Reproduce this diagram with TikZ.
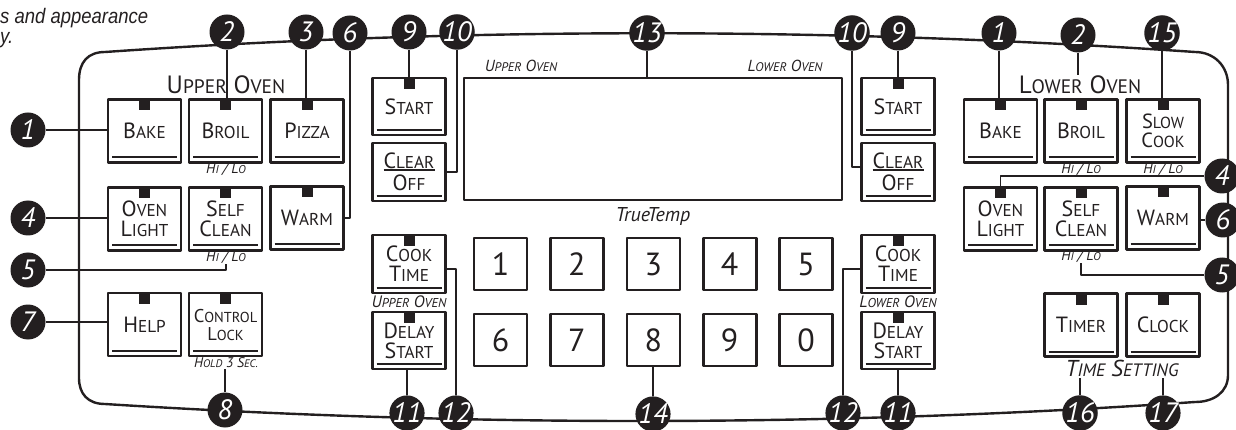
\documentclass[tikz,border=0pt]{standalone}
\usepackage{fontspec}
\setmainfont{PT Sans}
\newfontfamily\notefont[FakeStretch=0.88]{Liberation Sans}
\usepackage{tikz}
\definecolor{ink}{HTML}{231F20}
\newcommand\kc[2]{#1\scalebox{0.78}{#2}}
\newcommand\keyline{\draw[ink,line width=2pt] ([shift={(4pt,5pt)}]path picture bounding box.south west) -- ([shift={(-4pt,5pt)}]path picture bounding box.south east);}
\newcommand\keylamp{\fill[ink] ([xshift=-5.5pt]path picture bounding box.north) rectangle ([shift={(5.5pt,-11pt)}]path picture bounding box.north);}

\begin{document}
\begin{tikzpicture}[x=1pt,y=-1pt,line join=round,
    panel/.style={draw=ink,line width=2.4pt},
    wire/.style={draw=ink,line width=1.8pt},
    badge/.style={circle,fill=ink,text=white,minimum size=35pt,inner sep=0pt,font=\itshape\fontsize{28}{28}\selectfont},
    btnbox/.style={draw=ink,line width=2.6pt,fill=white,minimum width=73pt,minimum height=63pt,inner sep=0pt,align=center,text=ink,font=\fontsize{22}{20}\selectfont},
    btn/.style={btnbox,path picture={\keyline}},
    lampbtn/.style={btnbox,path picture={\keylamp\keyline}},
    clearbtn/.style={btnbox,path picture={\keyline\draw[ink,line width=1.6pt] ([shift={(11pt,2pt)}]path picture bounding box.west) -- ([shift={(-11pt,2pt)}]path picture bounding box.east);}},
    numbtn/.style={draw=ink,line width=2.6pt,minimum width=53pt,minimum height=52pt,inner sep=0pt,text=ink,font=\fontsize{32}{32}\selectfont},
    note/.style={inner sep=1pt,text=ink,font=\itshape\fontsize{14.5}{14.5}\selectfont},
    head/.style={inner sep=1pt,text=ink,font=\fontsize{25}{25}\selectfont}]
  \useasboundingbox (0,0) rectangle (1236,430);
  \node[anchor=base west,inner sep=0pt,text=ink,font=\notefont\itshape\fontsize{21}{21}\selectfont] (disc1) at (0,24) {s and appearance};
  \node[anchor=base west,inner sep=0pt,text=ink,font=\notefont\itshape\fontsize{21}{21}\selectfont] (disc2) at (0,44) {y.};
  \draw[panel] (79,80) .. controls (79,62) and (88,52) .. (105,52)
    .. controls (465,27) and (830,27) .. (1195,52)
    .. controls (1214,52) and (1228,66) .. (1228,85) -- (1228,375)
    .. controls (1228,392) and (1214,402) .. (1195,402)
    .. controls (832,427) and (468,427) .. (105,404)
    .. controls (88,404) and (79,394) .. (79,378) -- cycle;
  \node[head] (headU) at (226,85) {\kc{U}{PPER} \kc{O}{VEN}};
  \node[head] (headL) at (1080,85) {\kc{L}{OWER} \kc{O}{VEN}};
  \node[lampbtn] (bakeU) at (144.5,131) {\kc{B}{AKE}};
  \node[lampbtn] (broilU) at (225.5,131) {\kc{B}{ROIL}};
  \node[lampbtn] (pizzaU) at (307,131) {\kc{P}{IZZA}};
  \node[lampbtn] (lightU) at (144.5,219) {\kc{O}{VEN}\\\kc{L}{IGHT}};
  \node[lampbtn] (cleanU) at (225.5,219) {\kc{S}{ELF}\\\kc{C}{LEAN}};
  \node[lampbtn] (warmU) at (307,218) {\kc{W}{ARM}};
  \node[lampbtn] (helpU) at (144.5,324.5) {\kc{H}{ELP}};
  \node[lampbtn,font=\fontsize{18.5}{18}\selectfont] (lock) at (225.5,324.5) {\kc{C}{ONTROL}\\\kc{L}{OCK}};
  \node[lampbtn] (bakeL) at (1000.5,131) {\kc{B}{AKE}};
  \node[lampbtn] (broilL) at (1081,131) {\kc{B}{ROIL}};
  \node[lampbtn,font=\fontsize{20.5}{19}\selectfont] (slowL) at (1163,131) {\kc{S}{LOW}\\\kc{C}{OOK}};
  \node[lampbtn] (lightL) at (1000.5,219) {\kc{O}{VEN}\\\kc{L}{IGHT}};
  \node[lampbtn] (cleanL) at (1081,219) {\kc{S}{ELF}\\\kc{C}{LEAN}};
  \node[lampbtn] (warmL) at (1163,218) {\kc{W}{ARM}};
  \node[lampbtn] (timer) at (1081,325) {\kc{T}{IMER}};
  \node[lampbtn] (clock) at (1163,325) {\kc{C}{LOCK}};
  \node[lampbtn,minimum height=57pt] (startU) at (409,106.5) {\kc{S}{TART}};
  \node[clearbtn,minimum height=58pt,font=\fontsize{22}{22}\selectfont] (clearU) at (409,172) {\kc{C}{LEAR}\\\kc{O}{FF}};
  \node[lampbtn,minimum height=58pt] (cookU) at (409,264) {\kc{C}{OOK}\\\kc{T}{IME}};
  \node[lampbtn,minimum height=57pt] (delayU) at (409,340.5) {\kc{D}{ELAY}\\\kc{S}{TART}};
  \node[lampbtn,minimum height=57pt] (startL) at (898,106.5) {\kc{S}{TART}};
  \node[clearbtn,minimum height=58pt,font=\fontsize{22}{22}\selectfont] (clearL) at (898,172) {\kc{C}{LEAR}\\\kc{O}{FF}};
  \node[lampbtn,minimum height=58pt] (cookL) at (898,264) {\kc{C}{OOK}\\\kc{T}{IME}};
  \node[lampbtn,minimum height=57pt] (delayL) at (898,340.5) {\kc{D}{ELAY}\\\kc{S}{TART}};
  \node[draw=ink,line width=2.4pt,minimum width=378pt,minimum height=122pt] (display) at (653,139) {};
  \foreach \k [count=\i from 0] in {1,2,3,4,5}
  {
    \node[numbtn] (k\k) at ({500.5+76.4*\i},264) {\k};
  }
  \foreach \k [count=\i from 0] in {6,7,8,9,0}
  {
    \node[numbtn] (k\k) at ({500.5+76.4*\i},340) {\k};
  }
  \node[note] (hiloBU) at (226,169) {\kc{H}{I} / \kc{L}{O}};
  \node[note] (hiloSU) at (226,257) {\kc{H}{I} / \kc{L}{O}};
  \node[note] (hiloBL) at (1081,169) {\kc{H}{I} / \kc{L}{O}};
  \node[note] (hiloCL) at (1163,169) {\kc{H}{I} / \kc{L}{O}};
  \node[note] (hiloSL) at (1081,256) {\kc{H}{I} / \kc{L}{O}};
  \node[note,font=\itshape\fontsize{14}{14}\selectfont] (hold) at (226,363) {\kc{H}{OLD} 3 \kc{S}{EC.}};
  \node[note,font=\itshape\fontsize{16}{16}\selectfont] (dispU) at (521,66) {\kc{U}{PPER} \kc{O}{VEN}};
  \node[note,font=\itshape\fontsize{16}{16}\selectfont] (dispL) at (785,66) {\kc{L}{OWER} \kc{O}{VEN}};
  \node[note,font=\itshape\fontsize{20}{20}\selectfont] (truetemp) at (653,217) {TrueTemp};
  \node[note,font=\itshape\fontsize{16.5}{16.5}\selectfont] (ovenU) at (409,302) {\kc{U}{PPER} \kc{O}{VEN}};
  \node[note,font=\itshape\fontsize{16.5}{16.5}\selectfont] (ovenL) at (898,302) {\kc{L}{OWER} \kc{O}{VEN}};
  \node[note,font=\itshape\fontsize{23}{23}\selectfont] (timeset) at (1122,368) {\kc{T}{IME} \kc{S}{ETTING}};
  \node[badge] (b1u) at (28,130) {1};
  \node[badge] (b4u) at (28,218) {4};
  \node[badge] (b5u) at (28,270) {5};
  \node[badge] (b7u) at (28,322) {7};
  \node[badge] (b2u) at (227,32) {2};
  \node[badge] (b3u) at (306,32) {3};
  \node[badge] (b6u) at (350,33) {6};
  \node[badge] (b9u) at (409,32) {9};
  \node[badge] (b10u) at (457,32) {10};
  \node[badge] (b13) at (647,33) {13};
  \node[badge] (b10l) at (852,33) {10};
  \node[badge] (b9l) at (898,33) {9};
  \node[badge] (b1l) at (999,33) {1};
  \node[badge] (b2l) at (1078,35) {2};
  \node[badge] (b15) at (1162,33) {15};
  \node[badge] (b4l) at (1222,176) {4};
  \node[badge] (b6l) at (1223,220) {6};
  \node[badge] (b5l) at (1222,275) {5};
  \node[badge] (b8) at (225,410) {8};
  \node[badge] (b11u) at (407,413) {11};
  \node[badge] (b12u) at (456,413) {12};
  \node[badge] (b14) at (653,414) {14};
  \node[badge] (b12l) at (843,413) {12};
  \node[badge] (b11l) at (898,413) {11};
  \node[badge] (b16) at (1080,413) {16};
  \node[badge] (b17) at (1163,413) {17};
  \draw[wire] (b1u) -- (b1u -| bakeU.west);
  \draw[wire] (b4u) -- (b4u -| lightU.west);
  \draw[wire] (b7u) -- (b7u -| helpU.west);
  \draw[wire] (b5u) -| (hiloSU.south);
  \draw[wire] (b2u) -- (b2u |- broilU.north);
  \draw[wire] (b3u) -- (b3u |- pizzaU.north);
  \draw[wire] (b6u) |- (warmU);
  \draw[wire] (b9u) -- (b9u |- startU.north);
  \draw[wire] (b10u) |- (clearU);
  \draw[wire] (b13) -- (b13 |- display.north);
  \draw[wire] (b10l) |- ([yshift=5pt]clearL.west);
  \draw[wire] (b9l) -- (b9l |- startL.north);
  \draw[wire] (b1l) -- (b1l |- bakeL.north);
  \draw[wire] (b2l) -- (b2l |- headL.north);
  \draw[wire] (b15) -- (b15 |- slowL.north);
  \draw[wire] (b4l) -| (lightL.north);
  \draw[wire] (b6l) -- (b6l -| warmL.east);
  \draw[wire] (b5l) -| (hiloSL.south);
  \draw[wire] (b8) -- (b8 |- hold.south);
  \draw[wire] (b11u) -- (b11u |- delayU.south);
  \draw[wire] (b12u) |- ([yshift=-5pt]cookU.east);
  \draw[wire] (b14) -- (b14 |- k8.south);
  \draw[wire] (b12l) |- ([yshift=-5pt]cookL.west);
  \draw[wire] (b11l) -- (b11l |- delayL.south);
  \draw[wire] (b16) -- (b16 |- timeset.south);
  \draw[wire] (b17) -- (b17 |- timeset.south);
\end{tikzpicture}
\end{document}
